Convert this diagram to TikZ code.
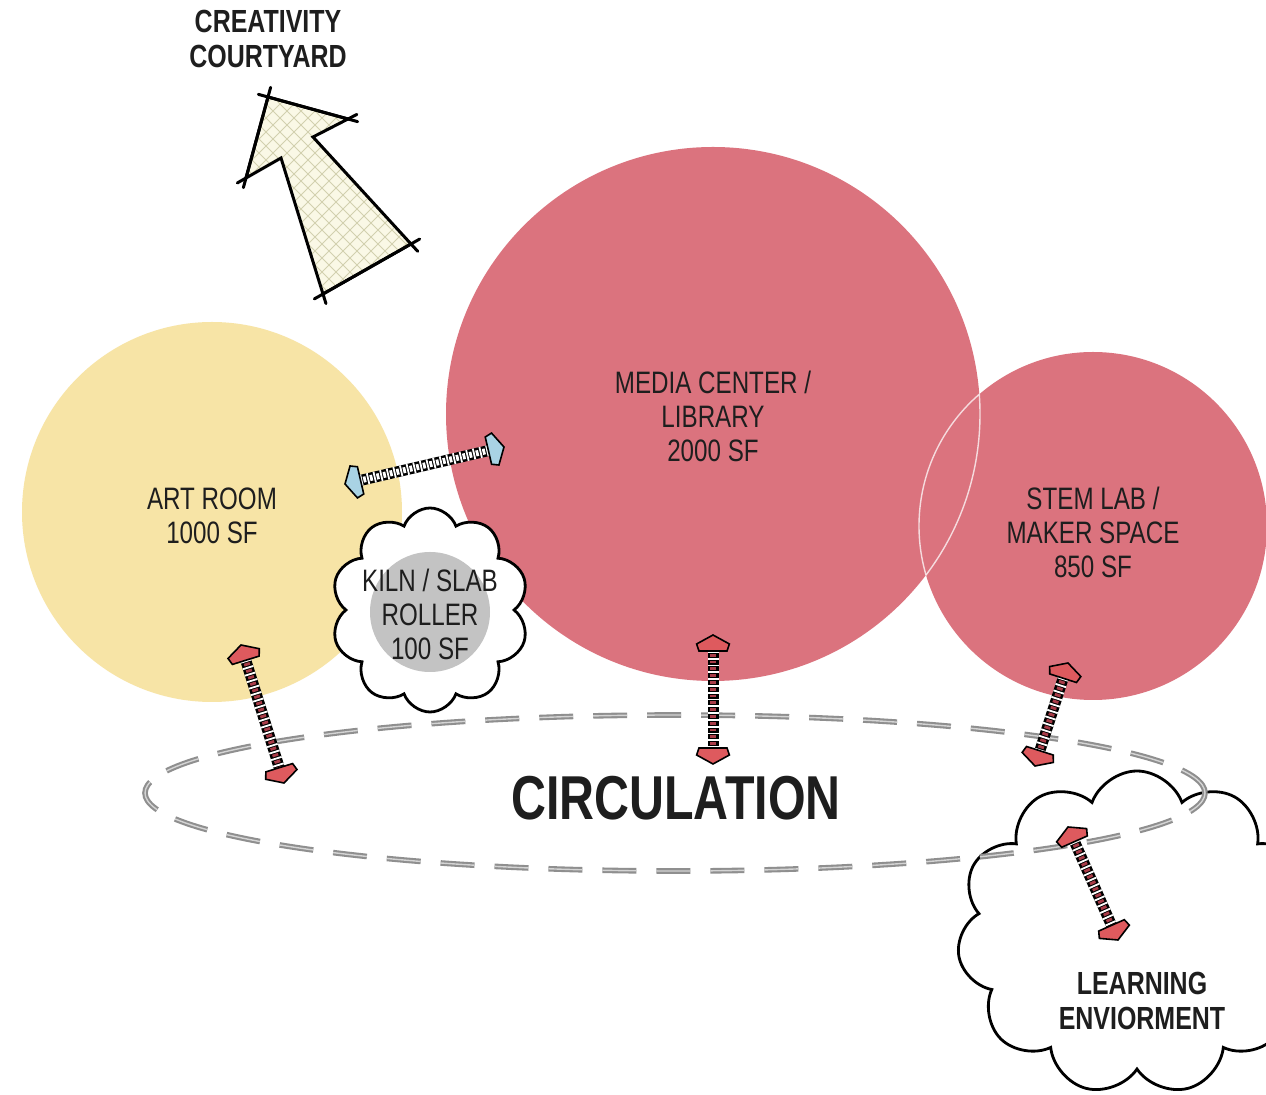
\documentclass[tikz,border=0pt]{standalone}
\usepackage{fontspec}
\setmainfont{Liberation Sans}[FakeStretch=0.78]
\usetikzlibrary{shapes.symbols,shapes.geometric,calc}

\definecolor{artyellow}{HTML}{F7E4A6}
\definecolor{roomred}{HTML}{DB737E}
\definecolor{kilngray}{HTML}{C3C3C3}
\definecolor{tipred}{HTML}{DE5A5E}
\definecolor{ladderred}{HTML}{A83C48}
\definecolor{tipblue}{HTML}{A9D3E4}
\definecolor{textcol}{HTML}{1E1E1E}
\definecolor{courtfill}{HTML}{FAF8E6}
\definecolor{courtgrid}{HTML}{D2D0AE}
\definecolor{circgray}{HTML}{8F8F8F}
\definecolor{circlight}{HTML}{D4D4D4}

% head at #2, pointing away from #1
\newcommand\ladderhead[3]{%
  \filldraw[fill=#3, draw=black, line width=0.8pt, line join=miter]
    (#2)
    -- ($($(#2)!4.5pt!(#1)$)!8.2pt!90:(#1)$)
    -- ($($(#2)!8pt!(#1)$)!7pt!90:(#1)$)
    -- ($($(#2)!8pt!(#1)$)!7pt!-90:(#1)$)
    -- ($($(#2)!4.5pt!(#1)$)!8.2pt!-90:(#1)$)
    -- cycle;
}
\newcommand\drawladder[4]{%
  \draw[line width=5.5pt, black, shorten <=7.5pt, shorten >=7.5pt] (#1) -- (#2);
  \draw[line width=5.5pt, white, dash pattern=on 0.9pt off 2.5pt,
    shorten <=8pt, shorten >=8pt] (#1) -- (#2);
  \draw[line width=3pt, #3, dash pattern=on 1.4pt off 2pt, dash phase=2pt,
    shorten <=8pt, shorten >=8pt] (#1) -- (#2);
  \ladderhead{#1}{#2}{#4}
  \ladderhead{#2}{#1}{#4}
}

\begin{document}
\begin{tikzpicture}[x=0.5pt,y=-0.5pt,
  room/.style={circle, inner sep=0pt, outer sep=0pt},
  lbl/.style={align=center, text=textcol, inner sep=0pt,
    font=\fontsize{15.5}{17}\selectfont},
  blbl/.style={align=center, text=textcol, inner sep=0pt,
    font=\fontsize{16}{17.5}\selectfont\bfseries},
  puff/.style={cloud, cloud puff arc=140, draw=black, line width=1.4pt,
    fill=white, inner sep=0pt},
  courtedge/.style={line width=1.5pt, black, line cap=round}
]
\clip (0,0) rectangle (1266,1095);
\fill[white] (0,0) rectangle (1266,1095);

% rooms
\node[room, fill=artyellow, minimum size=190pt] (art) at (212,512) {};
\node[room, fill=roomred, minimum size=267pt] (media) at (713,414) {};
\node[room, fill=roomred, minimum size=174pt] (stem) at (1093,526) {};
\begin{scope}
  \clip (stem.center) circle[radius=87pt];
  \draw[white, opacity=0.75, line width=0.7pt] (media.center) circle[radius=133.5pt];
\end{scope}
\begin{scope}
  \clip (media.center) circle[radius=133.5pt];
  \draw[white, opacity=0.75, line width=0.7pt] (stem.center) circle[radius=87pt];
\end{scope}

% learning environment cloud
\node[puff, cloud puffs=11, minimum width=180pt, minimum height=162pt] (learn) at (1137,933) {};

% circulation
\node[ellipse, draw=circgray, line width=1.05pt, double=circlight, double distance=0.7pt,
  dash pattern=on 17pt off 10pt, minimum width=530pt, minimum height=78pt,
  inner sep=0pt] (circ) at (675,793) {};

% kiln
\node[puff, cloud puffs=10, minimum width=99pt, minimum height=102pt] (kilncloud) at (430,610) {};
\node[room, fill=kilngray, minimum size=60pt] (kiln) at (430,612) {};

% creativity courtyard arrow
\coordinate (T) at (268,97);
\coordinate (RB) at (348,119);
\coordinate (NR) at (313,137);
\coordinate (BR) at (411,244);
\coordinate (BL) at (323,294);
\coordinate (NL) at (281,158);
\coordinate (LB) at (246,178);
\fill[courtfill] (T)--(RB)--(NR)--(BR)--(BL)--(NL)--(LB)--cycle;
\begin{scope}
  \clip (T)--(RB)--(NR)--(BR)--(BL)--(NL)--(LB)--cycle;
  \foreach \c in {-300,-286,...,360} \draw[courtgrid, line width=0.5pt] (\c+50,50) -- (\c+350,350);
  \foreach \c in {300,314,...,760} \draw[courtgrid, line width=0.5pt] (\c-50,50) -- (\c-350,350);
\end{scope}
\draw[courtedge, line join=miter] (T)--(RB)--(NR)--(BR)--(BL)--(NL)--(LB)--cycle;
\draw[courtedge] ($(T)!-5pt!(RB)$) -- ($(RB)!-5pt!(T)$);
\draw[courtedge] ($(RB)!-5pt!(NR)$) -- (RB);
\draw[courtedge] (BR) -- ($(BR)!-5pt!(NR)$);
\draw[courtedge] ($(BR)!-5pt!(BL)$) -- ($(BL)!-5pt!(BR)$);
\draw[courtedge] ($(BL)!-5pt!(NL)$) -- (BL);
\draw[courtedge] (LB) -- ($(LB)!-5pt!(NL)$);
\draw[courtedge] ($(LB)!-5pt!(T)$) -- ($(T)!-5pt!(LB)$);

% connectors
\coordinate (a1) at (241,645); \coordinate (a2) at (284,783);
\coordinate (m1) at (713,635); \coordinate (m2) at (713,764);
\coordinate (s1) at (1068,663); \coordinate (s2) at (1035,766);
\coordinate (l1) at (1068,827); \coordinate (l2) at (1118,940);
\coordinate (b1) at (345,484); \coordinate (b2) at (504,447);
\drawladder{a1}{a2}{ladderred}{tipred}
\drawladder{m1}{m2}{ladderred}{tipred}
\drawladder{s1}{s2}{ladderred}{tipred}
\drawladder{l1}{l2}{ladderred}{tipred}
\drawladder{b1}{b2}{white}{tipblue}

% texts
\node[blbl] (courttext) at (268,39) {CREATIVITY\\COURTYARD};
\node[lbl] (arttext) at (212,516) {ART ROOM\\1000 SF};
\node[lbl] (mediatext) at (713,416) {MEDIA CENTER /\\LIBRARY\\2000 SF};
\node[lbl] (stemtext) at (1093,532) {STEM LAB /\\MAKER SPACE\\850 SF};
\node[lbl] (kilntext) at (430,614) {KILN / SLAB\\ROLLER\\100 SF};
\node[text=textcol, inner sep=0pt, font=\fontsize{31}{33}\selectfont\bfseries] (circtext) at (676,798) {CIRCULATION};
\node[blbl] (learntext) at (1142,1001) {LEARNING\\ENVIORMENT};
\end{tikzpicture}
\end{document}
